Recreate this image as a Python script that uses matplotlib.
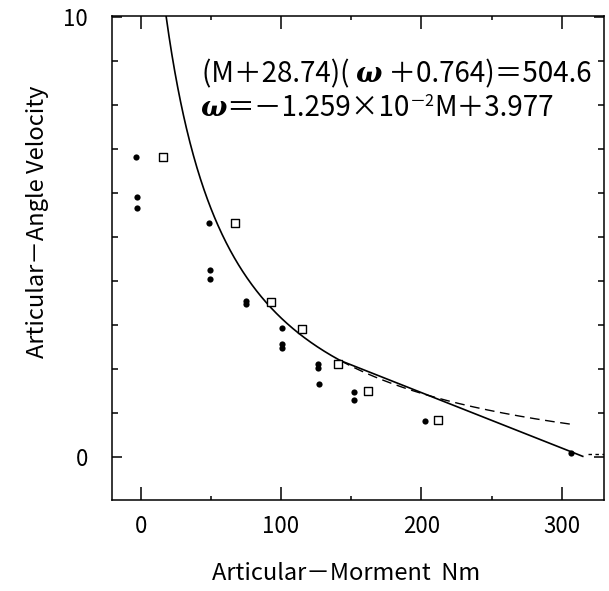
import numpy as np
import matplotlib
matplotlib.use("Agg")
import matplotlib.pyplot as plt
from matplotlib.ticker import MultipleLocator
from matplotlib.transforms import offset_copy

CJK = ['Noto Sans CJK JP', 'DejaVu Sans']
plt.rcParams['font.family'] = CJK

# Measured points: filled circles and open squares
circle_M = [-3, -2.6, -2.6, 48.7, 49.4, 49.4, 74.8, 74.8, 100.5, 100.9, 100.9,
            126.6, 126.6, 127.1, 152, 152, 202.6, 306.9]
circle_w = [6.80, 5.90, 5.65, 5.30, 4.24, 4.03, 3.55, 3.46, 2.93, 2.56, 2.48,
            2.10, 2.02, 1.65, 1.48, 1.30, 0.82, 0.08]
square_M = [15.7, 67.2, 92.9, 114.8, 140.6, 162.2, 211.7]
square_w = [6.80, 5.30, 3.52, 2.91, 2.11, 1.50, 0.83]

# Fitted relations
A, B, C = 28.74, 0.764, 504.6          # (M + A)(w + B) = C
SLOPE, ICPT = -1.259e-2, 3.977          # w = SLOPE*M + ICPT
M_SWITCH = 142.5                        # where the two fits meet
M_HYP_END = 306.5
M_LIN_END = 315.0

x_ticks = [0, 100, 200, 300]
y_ticks = [0, 10]


def hyper(m):
    return C / (m + A) - B


def linear(m):
    return SLOPE * m + ICPT


fig = plt.figure(figsize=(6.09, 5.91), dpi=100)
ax = fig.add_axes([0.1834, 0.1540, 0.8084, 0.8195])
ax.set_xlim(-20.67, 330.15)
ax.set_ylim(-0.98, 10.02)

m_top = C / (10.02 + B) - A
m1 = np.linspace(m_top, M_SWITCH, 300)
ax.plot(m1, hyper(m1), color='black', lw=1.2)
m2 = np.linspace(M_SWITCH, M_LIN_END, 100)
ax.plot(m2, linear(m2), color='black', lw=1.2)
m3 = np.linspace(M_SWITCH, M_HYP_END, 200)
ax.plot(m3, hyper(m3), color='black', lw=1.0, dashes=(7, 4))
ax.plot([319, 330.15], [0.06, 0.06], color='black', lw=1.0, dashes=(2.5, 2.5))

ax.scatter(circle_M, circle_w, s=20, color='black', zorder=3, linewidths=0)
ax.scatter(square_M, square_w, s=32, marker='s', facecolor='white',
           edgecolor='black', linewidth=1.0, zorder=3)

# Equations, set left to right in pieces so the omega can be bold italic
renderer = fig.canvas.get_renderer()
main = dict(fontsize=20, family=CJK)
omega = dict(fontsize=20, family='DejaVu Serif', fontweight='bold',
             fontstyle='italic')
small = dict(fontsize=11.5, family=CJK)


def draw_run(x, y, pieces):
    dx = 0.0
    for s, kw, rise in pieces:
        tr = offset_copy(ax.transData, fig=fig, x=dx, y=rise, units='dots')
        t = ax.text(x, y, s, transform=tr, ha='left', va='baseline', **kw)
        dx += t.get_window_extent(renderer).width


draw_run(43.5, 8.51, [('(M＋28.74)( ', main, 0),
                      ('ω', omega, 0),
                      (' ＋0.764)＝504.6', main, 0)])
draw_run(42.3, 7.74, [('ω', omega, 0),
                      ('＝－1.259×10', main, 0),
                      ('－2', small, 10),
                      ('M＋3.977', main, 0)])

ax.set_xticks(x_ticks)
ax.set_yticks(y_ticks)
ax.xaxis.set_minor_locator(MultipleLocator(50))
ax.yaxis.set_minor_locator(MultipleLocator(1))
ax.tick_params(which='both', direction='in', top=True, right=True,
               labelsize=16, width=1.1)
ax.tick_params(axis='x', which='major', length=9.5, pad=11)
ax.tick_params(axis='y', which='major', length=7, pad=17)
ax.tick_params(axis='x', which='minor', length=3)
ax.tick_params(axis='y', which='minor', length=4)
for s in ax.spines.values():
    s.set_linewidth(1.1)

ax.set_xlabel('Articular－Morment  Nm', fontsize=17)
ax.set_ylabel('Articular－Angle Velocity', fontsize=17)
ax.xaxis.set_label_coords(0.476, -0.152)
ax.xaxis.label.set_va('center')
ax.yaxis.set_label_coords(-0.150, 0.575)
ax.yaxis.label.set_va('center')

fig.savefig('out.png', dpi=100)
